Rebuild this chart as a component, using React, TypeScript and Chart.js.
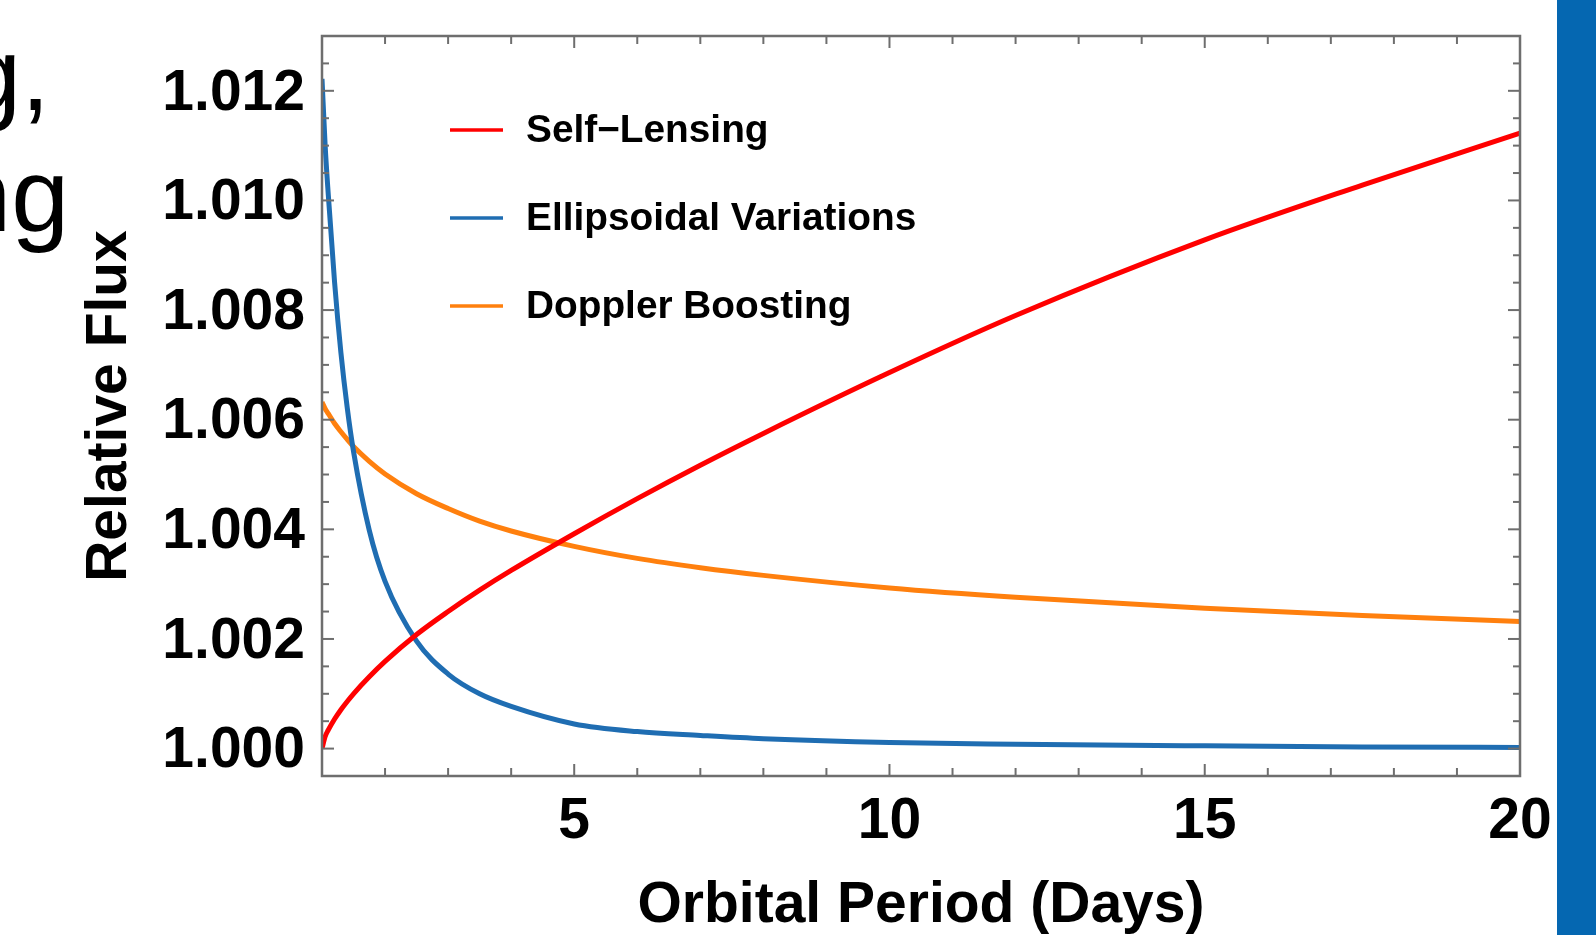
import React, { useEffect, useRef } from "react";
import { Chart, registerables } from "chart.js";

Chart.register(...registerables);

// Orbital period (days)
const periods = [1, 1.05, 1.1, 1.2, 1.3, 1.4, 1.5, 1.75, 2, 2.5, 3, 3.5, 4, 5, 6, 7, 8, 10, 12, 15, 17.5, 20];

// Relative flux
const selfLensing = [1.0, 1.00022, 1.00034, 1.00054, 1.00071, 1.00086, 1.001, 1.00131, 1.00159, 1.00208, 1.0025, 1.00289, 1.00325, 1.00392, 1.00456, 1.00517, 1.00575, 1.00686, 1.0079, 1.00928, 1.01028, 1.01123];
const ellipsoidal = [1.01222, 1.0110, 1.0101, 1.0085, 1.00722, 1.00622, 1.00542, 1.00398, 1.00305, 1.00196, 1.00136, 1.001, 1.00077, 1.00045, 1.00031, 1.00024, 1.00018, 1.00011, 1.00008, 1.00005, 1.00003, 1.00002];
const doppler = [1.00632, 1.0062, 1.00611, 1.00593, 1.00578, 1.00564, 1.00551, 1.00524, 1.00501, 1.00465, 1.00438, 1.00415, 1.00397, 1.00369, 1.00347, 1.0033, 1.00316, 1.00293, 1.00276, 1.00256, 1.00243, 1.00232];

const seriesNames = ["Self\u2212Lensing", "Ellipsoidal Variations", "Doppler Boosting"];
const seriesColors = ["#ff0000", "#1f6db2", "#ff800e"];

const xTickLabels = [5, 10, 15, 20];
const yTickLabels = [1.0, 1.002, 1.004, 1.006, 1.008, 1.01, 1.012];

const FONT = "'Liberation Sans', Arial, Helvetica, sans-serif";

const framePlugin = {
  id: "frameTicks",
  afterDatasetsDraw(chart: any) {
    const { ctx, chartArea, scales } = chart;
    const { left, right, top, bottom } = chartArea;
    const x = scales.x;
    const y = scales.y;
    ctx.save();
    ctx.strokeStyle = "#6e6e6e";
    ctx.lineWidth = 2;
    const seg = (x1: number, y1: number, x2: number, y2: number) => {
      ctx.beginPath();
      ctx.moveTo(x1, y1);
      ctx.lineTo(x2, y2);
      ctx.stroke();
    };
    for (let d = 1; d <= 20; d++) {
      const px = x.getPixelForValue(d);
      const len = d % 5 === 0 ? 12 : 8;
      seg(px, bottom, px, bottom - len);
      seg(px, top, px, top + len);
    }
    for (let i = 0; i <= 25; i++) {
      const v = 1 + i * 0.0005;
      const py = y.getPixelForValue(v);
      const len = i % 4 === 0 ? 12 : 7;
      seg(left, py, left + len, py);
      seg(right, py, right - len, py);
    }
    ctx.lineWidth = 2.5;
    ctx.strokeRect(left, top, right - left, bottom - top);
    ctx.restore();
  },
  afterDraw(chart: any) {
    const { ctx, chartArea } = chart;
    const lx = chartArea.left + 128;
    const rows = [130, 218, 306];
    ctx.save();
    ctx.font = `bold 38.8px ${FONT}`;
    ctx.textBaseline = "middle";
    ctx.textAlign = "left";
    seriesNames.forEach((name, i) => {
      ctx.strokeStyle = seriesColors[i];
      ctx.lineWidth = 3.5;
      ctx.beginPath();
      ctx.moveTo(lx, rows[i]);
      ctx.lineTo(lx + 53, rows[i]);
      ctx.stroke();
      ctx.fillStyle = "#000";
      ctx.fillText(name, lx + 76, rows[i] + 1);
    });
    ctx.restore();
  },
};

export default function App() {
  const canvasRef = useRef<HTMLCanvasElement | null>(null);

  useEffect(() => {
    if (!canvasRef.current) return;
    const mk = (vals: number[]) => periods.map((p, i) => ({ x: p, y: vals[i] }));
    const ds = (i: number, vals: number[]) => ({
      label: seriesNames[i],
      data: mk(vals),
      borderColor: seriesColors[i],
      borderWidth: 5,
      pointRadius: 0,
      cubicInterpolationMode: "monotone",
      fill: false,
    });
    const chart = new Chart(canvasRef.current, {
      type: "line",
      data: {
        datasets: [ds(0, selfLensing), ds(1, ellipsoidal), ds(2, doppler)],
      },
      options: {
        responsive: false,
        animation: false,
        layout: { padding: { left: 0, top: 36, right: 76, bottom: 0 } },
        plugins: { legend: { display: false }, tooltip: { enabled: false } },
        scales: {
          x: {
            type: "linear",
            min: 1,
            max: 20,
            grid: { display: false, drawTicks: false },
            border: { display: false },
            afterBuildTicks: (s: any) => {
              s.ticks = xTickLabels.map((v) => ({ value: v }));
            },
            afterFit: (s: any) => {
              s.height = 159;
              s.paddingLeft = 0;
              s.paddingRight = 0;
            },
            ticks: {
              padding: 12,
              color: "#000",
              maxRotation: 0,
              font: { family: FONT, size: 57, weight: "bold" },
              callback: (v: any) => String(v),
            },
            title: {
              display: true,
              text: "Orbital Period (Days)",
              color: "#000",
              padding: { top: 0, bottom: 0 },
              font: { family: FONT, size: 57, weight: "bold", lineHeight: 1.0 },
            },
          },
          y: {
            type: "linear",
            min: 0.9995,
            max: 1.013,
            grid: { display: false, drawTicks: false },
            border: { display: false },
            afterBuildTicks: (s: any) => {
              s.ticks = yTickLabels.map((v) => ({ value: v }));
            },
            afterFit: (s: any) => {
              s.width = 322;
              s.paddingTop = 0;
              s.paddingBottom = 0;
            },
            ticks: {
              padding: 17,
              labelOffset: 3,
              color: "#000",
              font: { family: FONT, size: 57, weight: "bold" },
              callback: (v: any) => Number(v).toFixed(3),
            },
            title: {
              display: true,
              text: "Relative Flux",
              color: "#000",
              padding: { top: 76, bottom: 0 },
              font: { family: FONT, size: 57, weight: "bold" },
            },
          },
        },
      },
      plugins: [framePlugin],
    } as any);
    return () => chart.destroy();
  }, []);

  const textStyle: React.CSSProperties = {
    position: "absolute",
    fontFamily: FONT,
    fontSize: 104,
    lineHeight: "104px",
    whiteSpace: "nowrap",
    color: "#000",
  };

  return (
    <div style={{ position: "fixed", left: 0, top: 0, width: 1596, height: 935, overflow: "hidden", background: "#fff" }}>
      <canvas ref={canvasRef} width={1596} height={935} style={{ position: "absolute", left: 0, top: 0, display: "block" }} />
      <div style={{ ...textStyle, top: 22, right: 1596 - 50 }}>g,</div>
      <div style={{ ...textStyle, top: 143, right: 1596 - 69 }}>ng</div>
      <div style={{ position: "absolute", left: 1557, top: 0, width: 39, height: 935, background: "#0567b1" }} />
    </div>
  );
}
